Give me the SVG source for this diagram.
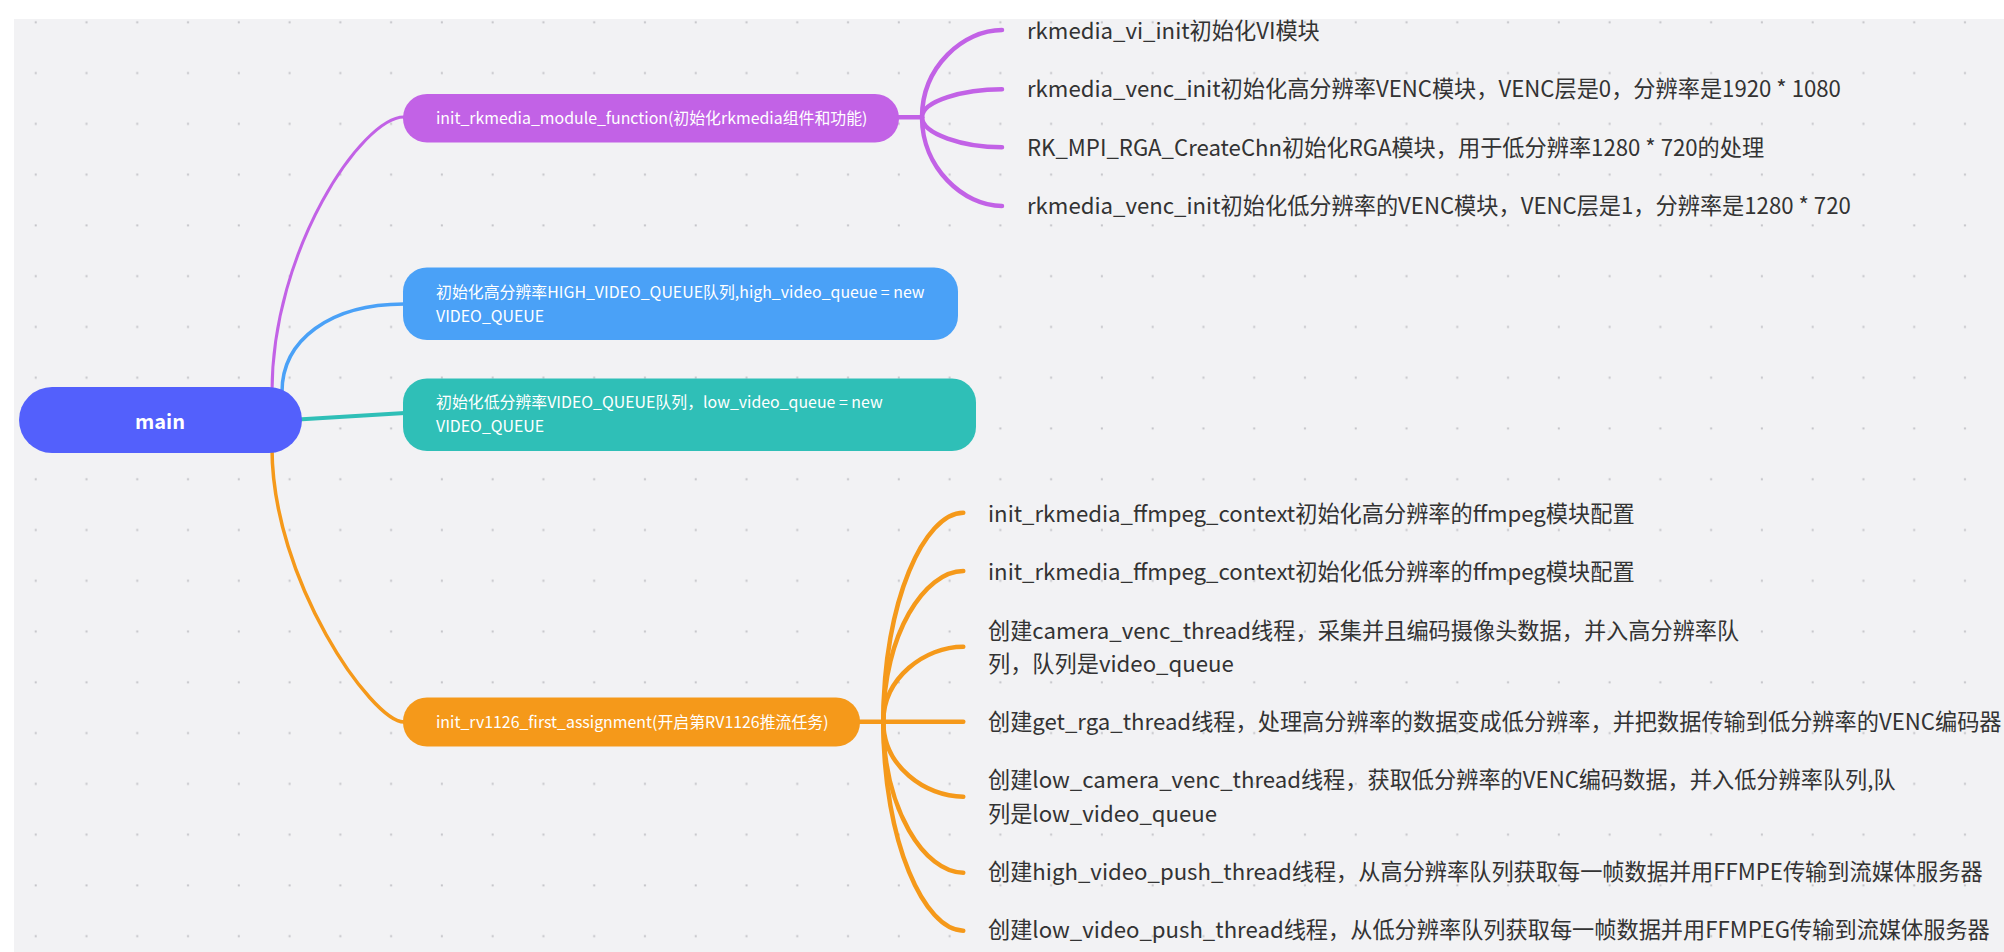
<svg xmlns="http://www.w3.org/2000/svg" width="2004" height="952" viewBox="0 0 2004 952">
<defs>
<pattern id="dots" x="0" y="0" width="50.77" height="50.77" patternUnits="userSpaceOnUse">
<rect x="34.7" y="21.3" width="2" height="2" fill="#c4c4c8"/>
</pattern>
<style>
.ntext{font-family:"Noto Sans CJK SC","Noto Sans",sans-serif;font-size:15.9px;fill:#ffffff}
.ctext{font-family:"Noto Sans CJK SC","Noto Sans",sans-serif;font-size:22.2px;fill:#333333}
.mtext{font-family:"Noto Sans CJK SC","Noto Sans",sans-serif;font-size:20px;font-weight:700;fill:#ffffff}
.c{fill:none;stroke-linecap:round}
.pu{stroke:#c262e6}
.bl{stroke:#4aa1f7}
.te{stroke:#2fbfb7}
.or{stroke:#f5991a}
</style>
</defs>
<rect x="0" y="0" width="2004" height="952" fill="#ffffff"/>
<rect x="14" y="19" width="1990" height="933" fill="#f2f2f4"/>
<rect x="14" y="19" width="1990" height="933" fill="url(#dots)"/>

<g id="connectors">
<path class="c pu" stroke-width="3" d="M272,392 C272,250 362,117 404,117"/>
<path class="c bl" stroke-width="3.5" d="M282,392 C282,340 330,304 404,304"/>
<path class="c te" stroke-width="4" d="M298,419.5 L405,413"/>
<path class="c or" stroke-width="3.5" d="M272,448 C272,580 372,722 404,722"/>
<path class="c pu" stroke-width="4.5" d="M897,117.3 H922"/>
<path class="c pu" stroke-width="4.5" d="M922,117.3 C922,66.5 963.6,30 1002,30"/>
<path class="c pu" stroke-width="4.5" d="M922,117.3 C922,101 963.6,89.3 1002,89.3"/>
<path class="c pu" stroke-width="4.5" d="M922,117.3 C922,134 963.6,147.3 1002,147.3"/>
<path class="c pu" stroke-width="4.5" d="M922,117.3 C922,168 963.6,206 1002,206"/>
<path class="c or" stroke-width="4.5" d="M858,721.7 H963.3"/>
<path class="c or" stroke-width="4.5" d="M883.3,721.7 C883.3,600 925,512.7 963.3,512.7"/>
<path class="c or" stroke-width="4.5" d="M883.3,721.7 C883.3,634 925,571 963.3,571"/>
<path class="c or" stroke-width="4.5" d="M883.3,721.7 C883.3,678 925,646.7 963.3,646.7"/>
<path class="c or" stroke-width="4.5" d="M883.3,721.7 C883.3,766 925,796.7 963.3,796.7"/>
<path class="c or" stroke-width="4.5" d="M883.3,721.7 C883.3,810 925,872.7 963.3,872.7"/>
<path class="c or" stroke-width="4.5" d="M883.3,721.7 C883.3,843 925,930.7 963.3,930.7"/>
</g>

<g id="node-main">
<rect x="19" y="387" width="283" height="66" rx="33" fill="#5360fc"/>
<text class="mtext" x="160" y="429" text-anchor="middle">main</text>
</g>

<g id="node-init-rkmedia">
<rect x="403" y="94" width="496" height="48.5" rx="24" fill="#c262e6"/>
<text class="ntext" x="436" y="124.3">init_rkmedia_module_function(初始化rkmedia组件和功能)</text>
</g>

<g id="node-high-queue">
<rect x="403" y="267.5" width="555" height="72.5" rx="24" fill="#4aa1f7"/>
<text class="ntext" x="436" y="297.7">初始化高分辨率HIGH_VIDEO_QUEUE队列,high_video_queue = new</text>
<text class="ntext" x="436" y="321.7">VIDEO_QUEUE</text>
</g>

<g id="node-low-queue">
<rect x="403" y="378.5" width="573" height="72.5" rx="24" fill="#2fbfb7"/>
<text class="ntext" x="436" y="408.3">初始化低分辨率VIDEO_QUEUE队列，low_video_queue = new</text>
<text class="ntext" x="436" y="432.3">VIDEO_QUEUE</text>
</g>

<g id="node-rv1126">
<rect x="403" y="697.5" width="457" height="49" rx="24" fill="#f5991a"/>
<text class="ntext" x="436" y="728">init_rv1126_first_assignment(开启第RV1126推流任务)</text>
</g>

<g id="node-vi-init"><text class="ctext" x="1027" y="39">rkmedia_vi_init初始化VI模块</text></g>
<g id="node-venc-high"><text class="ctext" x="1027" y="97.3">rkmedia_venc_init初始化高分辨率VENC模块，VENC层是0，分辨率是1920 * 1080</text></g>
<g id="node-rga"><text class="ctext" x="1027" y="156">RK_MPI_RGA_CreateChn初始化RGA模块，用于低分辨率1280 * 720的处理</text></g>
<g id="node-venc-low"><text class="ctext" x="1027" y="214.3">rkmedia_venc_init初始化低分辨率的VENC模块，VENC层是1，分辨率是1280 * 720</text></g>

<g id="node-ffmpeg-high"><text class="ctext" x="988" y="521.7">init_rkmedia_ffmpeg_context初始化高分辨率的ffmpeg模块配置</text></g>
<g id="node-ffmpeg-low"><text class="ctext" x="988" y="580">init_rkmedia_ffmpeg_context初始化低分辨率的ffmpeg模块配置</text></g>
<g id="node-camera-venc">
<text class="ctext" x="988" y="639.3">创建camera_venc_thread线程，采集并且编码摄像头数据，并入高分辨率队</text>
<text class="ctext" x="988" y="671.7">列，队列是video_queue</text>
</g>
<g id="node-get-rga"><text class="ctext" x="988" y="730">创建get_rga_thread线程，处理高分辨率的数据变成低分辨率，并把数据传输到低分辨率的VENC编码器</text></g>
<g id="node-low-camera">
<text class="ctext" x="988" y="788.3">创建low_camera_venc_thread线程，获取低分辨率的VENC编码数据，并入低分辨率队列,队</text>
<text class="ctext" x="988" y="821.7">列是low_video_queue</text>
</g>
<g id="node-high-push"><text class="ctext" x="988" y="880">创建high_video_push_thread线程，从高分辨率队列获取每一帧数据并用FFMPE传输到流媒体服务器</text></g>
<g id="node-low-push"><text class="ctext" x="988" y="938.3">创建low_video_push_thread线程，从低分辨率队列获取每一帧数据并用FFMPEG传输到流媒体服务器</text></g>
</svg>
